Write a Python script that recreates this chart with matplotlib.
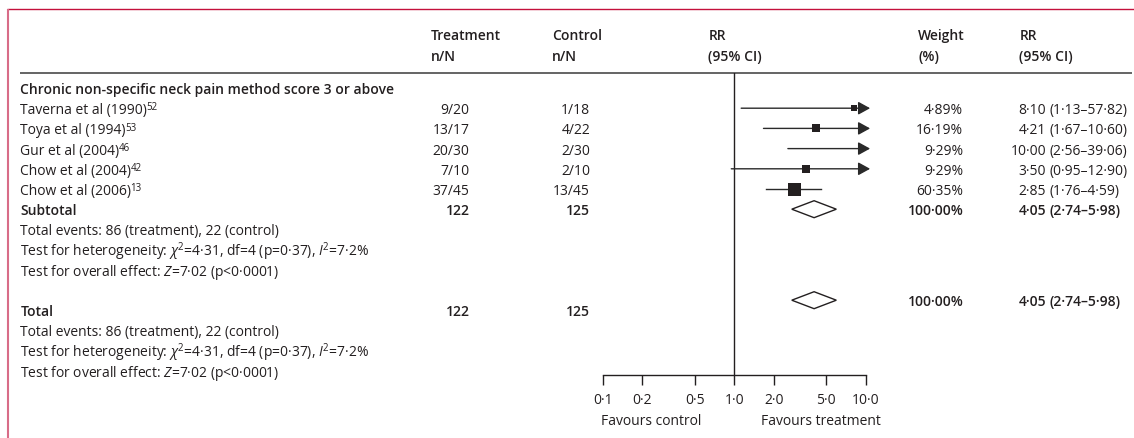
import numpy as np
import matplotlib
matplotlib.use("Agg")
import matplotlib.pyplot as plt
from matplotlib.patches import Polygon

plt.rcParams['font.family'] = ['Open Sans', 'DejaVu Sans']
plt.rcParams['mathtext.fontset'] = 'custom'
plt.rcParams['mathtext.rm'] = 'Open Sans'
plt.rcParams['mathtext.it'] = 'Open Sans:italic'
plt.rcParams['mathtext.bf'] = 'Open Sans:bold'

# data
studies = ["Taverna et al (1990)", "Toya et al (1994)", "Gur et al (2004)",
           "Chow et al (2004)", "Chow et al (2006)"]
refs = ["52", "53", "46", "42", "13"]
treat = ["9/20", "13/17", "20/30", "7/10", "37/45"]
control = ["1/18", "4/22", "2/30", "2/10", "13/45"]
rr = [8.10, 4.21, 10.00, 3.50, 2.85]
rr_lo = [1.13, 1.67, 2.56, 0.95, 1.76]
rr_hi = [57.82, 10.60, 39.06, 12.90, 4.59]
weight = [4.89, 16.19, 9.29, 9.29, 60.35]

pooled = [4.05, 2.74, 5.98]
n_treat, n_control = 122, 125
events = [86, 22]
ticks = [0.1, 0.2, 0.5, 1.0, 2.0, 5.0, 10.0]

TXT = '#231f20'
FS = 10.0
SUP = 7.0
BOLD = 'semibold'


def dot(v, d=2):
    return f"{v:.{d}f}".replace(".", "·")


W, H = 1134, 439
fig = plt.figure(figsize=(W / 100, H / 100), dpi=100)
renderer = fig.canvas.get_renderer()

# layout axes in pixel units (text columns and rules)
tab = fig.add_axes([0, 0, 1, 1])
tab.set_xlim(0, W)
tab.set_ylim(H, 0)
tab.axis('off')

def row_y(i):
    return 89 + 20.2 * i

def put(x, i, s, ha='left', bold=False, dy=0, size=FS):
    return tab.text(x, row_y(i) + 5 + dy, s, ha=ha, va='baseline', fontsize=size,
                    color=TXT, fontweight=BOLD if bold else 'normal')

def put_sup(t, i, s):
    # small raised reference number right after a text
    bb = t.get_window_extent(renderer)
    xr = tab.transData.inverted().transform((bb.x1, bb.y0))[0]
    tab.text(xr - 1.0, row_y(i) + 5 - 3.8, s, ha='left', va='baseline',
             fontsize=SUP, color=TXT)

# frame
tab.plot([7, W], [10.3, 10.3], color='#c4103c', lw=1.0, solid_capstyle='butt')
tab.plot([7.8, 7.8], [10, H], color='#d86c88', lw=1.5, solid_capstyle='butt')
# header rule
tab.plot([20, 1132], [73.5, 73.5], color='#3a3a3a', lw=1.1, solid_capstyle='butt')

# headers
for x, top, bot in [(430.7, "Treatment", "n/N"), (552.3, "Control", "n/N"),
                    (708.3, "RR", "(95% CI)"), (918.3, "Weight", "(%)"),
                    (1019.3, "RR", "(95% CI)")]:
    tab.text(x, 40, top, ha='left', va='baseline', fontsize=FS, color=TXT, fontweight=BOLD)
    tab.text(x, 61, bot, ha='left', va='baseline', fontsize=FS, color=TXT, fontweight=BOLD)

put(20.5, 0, "Chronic non-specific neck pain method score 3 or above", bold=True)
for k in range(len(studies)):
    i = k + 1
    t = put(20.5, i, studies[k])
    put_sup(t, i, refs[k])
    put(469.5, i, treat[k], ha='right')
    put(590, i, control[k], ha='right')
    put(963.3, i, dot(weight[k]) + "%", ha='right')
    put(1046, i, dot(rr[k]), ha='right')
    put(1049.5, i, f"({dot(rr_lo[k])}–{dot(rr_hi[k])})")

het = r"Test for heterogeneity: $\chi^{2}$=4·31, df=4 (p=0·37), $I^{2}$=7·2%"
overall = r"Test for overall effect: $Z$=7·02 (p<0·0001)"
ev = f"Total events: {events[0]} (treatment), {events[1]} (control)"

total_dy = -10
for start, label, dy in [(6, "Subtotal", 0), (11, "Total", total_dy)]:
    put(20.5, start, label, bold=True)
    put(469.5, start, str(n_treat), ha='right', bold=True)
    put(590, start, str(n_control), ha='right', bold=True)
    put(963.3, start, "100·00%", ha='right', bold=True, dy=dy)
    put(1046, start, dot(pooled[0]), ha='right', bold=True, dy=dy)
    put(1049.5, start, f"({dot(pooled[1])}–{dot(pooled[2])})", bold=True, dy=dy)
    put(20.5, start + 1, ev)
    put(20.5, start + 2, het)
    put(20.5, start + 3, overall)

# forest axes
x0, x1 = 602.7, 865.7
ytop, ybot = 73.5, 375.5
ax = fig.add_axes([x0 / W, (H - ybot) / H, (x1 - x0) / W, (ybot - ytop) / H])
ax.patch.set_visible(False)
ax.set_xscale('log')
ax.set_xlim(ticks[0], ticks[-1])
ax.set_ylim((ybot - 89) / 20.2, (ytop - 89) / 20.2)
for s in ['left', 'right', 'top']:
    ax.spines[s].set_visible(False)
ax.spines['bottom'].set_color(TXT)
ax.spines['bottom'].set_linewidth(1.0)
ax.set_yticks([])
ax.xaxis.set_minor_locator(matplotlib.ticker.NullLocator())
ax.set_xticks(ticks)
ax.set_xticklabels([dot(t, 1) for t in ticks], fontsize=FS, color=TXT)
ax.tick_params(axis='x', direction='out', length=7.4, width=1.0, color=TXT, pad=5)
ax.axvline(1.0, color=TXT, lw=1.0)

LC = '#2a2a2a'
xmax = ticks[-1]
for k in range(len(rr)):
    y = k + 1
    if rr_hi[k] > xmax:
        ax.annotate("", xy=(xmax * 1.08, y), xytext=(rr_lo[k], y),
                    annotation_clip=False,
                    arrowprops=dict(arrowstyle='-|>,head_length=0.4,head_width=0.22',
                                    mutation_scale=18, color=LC, lw=1.0,
                                    shrinkA=0, shrinkB=0))
    else:
        ax.plot([rr_lo[k], rr_hi[k]], [y, y], color=LC, lw=1.0)
    if rr[k] < xmax:
        size_px = 6 + 7 * weight[k] / max(weight)
        ax.plot(rr[k], y, marker='s', ms=size_px * 0.72, color='#231f20',
                mec='#231f20', mew=0, zorder=5)

for yc in [6, 11 + total_dy / 20.2]:
    est, lo, hi = pooled
    dia = Polygon([(lo, yc), (est, yc - 0.42), (hi, yc), (est, yc + 0.42)],
                  closed=True, facecolor='white', edgecolor=TXT, lw=1.0, zorder=4)
    ax.add_patch(dia)

# favours labels under the axis
tab.text(601, 420 + 5, "Favours control", ha='left', va='baseline', fontsize=FS, color=TXT)
tab.text(761, 420 + 5, "Favours treatment", ha='left', va='baseline', fontsize=FS, color=TXT)

fig.savefig("out.png", dpi=100)
